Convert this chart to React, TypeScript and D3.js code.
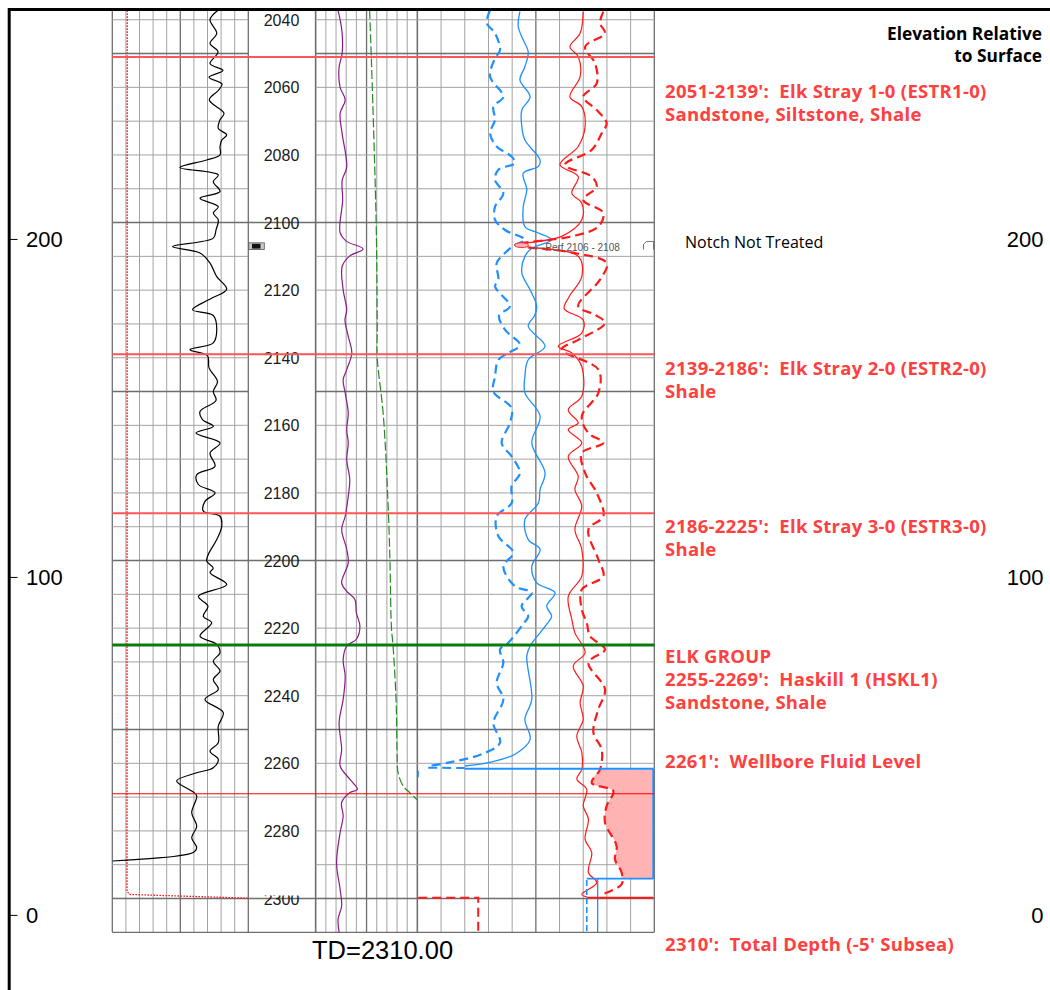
import React from "react";
import * as d3 from "d3";

type Pt = [number, number];

// ---------- DATA ----------
const depthLabels = [2040, 2060, 2080, 2100, 2120, 2140, 2160, 2180, 2200, 2220, 2240, 2260, 2280, 2300];
const elevationTicks = [0, 100, 200];
const surfaceElevation = 2305; // elevation = 2305 - depth
const totalDepth = 2310;

const formationTops = [2051, 2139, 2186];
const elkGroupTop = 2225;
const haskillBase = 2269;
const fluidLevel = 2261.6;
const shoeDepth = 2294.1;
const perfTop = 2106;
const perfBase = 2108;

// Track 1: gamma ray (API, 0-150)
const gammaRay: Pt[] = [
  [2037.2, 116.6], [2040, 107.8], [2044, 115.2], [2047, 107.8], [2049.5, 116.6], [2053, 107.8], [2055, 122.1],
  [2057, 106.7], [2059, 121.0], [2061, 116.6], [2063.7, 107.0], [2067.7, 123.2], [2069.6, 118.8], [2072.1, 116.9],
  [2074.1, 126.2], [2075.6, 120.7], [2077.5, 118.8], [2080, 118.8], [2081.5, 104.1], [2083.7, 74.7], [2085.9, 116.9],
  [2087.9, 111.4], [2090.8, 118.8], [2092.8, 96.7], [2095.3, 116.9], [2097.2, 111.4], [2099.2, 116.9], [2102.2, 114.4],
  [2104.6, 111.4], [2107.1, 66.4], [2109, 96.7], [2112, 107.8], [2116, 115.2], [2119.7, 126.2], [2122.5, 108.9],
  [2125.8, 88.5], [2127.5, 111.4], [2131.5, 115.2], [2135.6, 111.4], [2137.6, 85.7], [2139.4, 105.0], [2143, 106.7],
  [2147, 116.0], [2150, 111.4], [2152.6, 114.4], [2155.9, 96.7], [2158.3, 99.5], [2160.3, 111.4], [2162.3, 92.3],
  [2165.2, 118.8], [2168.2, 107.8], [2172.1, 113.3], [2174.6, 93.1], [2177.5, 94.9], [2180, 113.3], [2182.5, 102.2],
  [2185.4, 100.4], [2186.9, 118.8], [2189.9, 120.7], [2193.8, 115.2], [2198.2, 105.9], [2200.2, 104.1], [2202.2, 111.4],
  [2203.6, 107.8], [2207.1, 126.2], [2210.6, 94.9], [2213.5, 105.5], [2216.5, 100.4], [2218.4, 109.6], [2222.4, 96.7],
  [2224.8, 115.2], [2227.3, 118.8], [2229.8, 111.4], [2232.7, 118.8], [2235.2, 111.4], [2238.1, 116.9], [2241.1, 102.2],
  [2245, 122.4], [2249, 116.9], [2253.9, 116.9], [2256.4, 107.8], [2258.8, 116.9], [2261.3, 111.4], [2262.8, 93.1],
  [2265.2, 71.0], [2268.2, 87.6], [2269.6, 93.1], [2274.6, 87.6], [2278.6, 93.1], [2282, 87.6], [2285, 93.1],
  [2286.4, 89.3], [2288.9, 0.4],
];

// Track 1: caliper (in, 6-16)
const caliper: Pt[] = [[2037.2, 7.1], [2297.8, 7.08], [2298.8, 7.25], [2299.9, 16]];

// Track 2: purple curve (0-10)
const purpleCurve: Pt[] = [
  [2037.2, 2.2], [2040, 2.4], [2044, 2.6], [2050, 2.6], [2054, 2.3], [2060, 2.4], [2063.7, 2.9], [2067.7, 2.4],
  [2073.7, 2.6], [2083.6, 3.05], [2087.5, 2.6], [2093.4, 2.65], [2103, 2.4], [2105.5, 3.0], [2107.8, 4.65],
  [2110, 3.3], [2113, 2.6], [2119.9, 2.7], [2125.8, 3.05], [2128.8, 2.88], [2133.7, 3.2], [2138.6, 3.55],
  [2143.5, 3.05], [2146.5, 2.7], [2150.4, 2.9], [2156.3, 3.2], [2161.3, 3.05], [2165.2, 3.2], [2170.1, 3.05],
  [2176.1, 3.35], [2181, 3.2], [2186.9, 2.9], [2190.8, 2.55], [2196.7, 3.05], [2200.7, 3.2], [2206.6, 2.55],
  [2209.1, 3.05], [2211.5, 3.85], [2215.5, 4.0], [2219.4, 4.35], [2223.3, 4.0], [2225.3, 3.05], [2229.3, 2.7],
  [2234.2, 2.9], [2241.1, 2.7], [2248, 2.3], [2255.9, 2.55], [2260.8, 2.4], [2264.7, 3.35], [2267.7, 4.1],
  [2268.7, 3.35], [2271.6, 2.55], [2275.6, 2.7], [2280.5, 2.4], [2289.4, 2.05], [2297.3, 2.4], [2302.2, 2.55],
  [2306.1, 2.2], [2310, 2.3],
];

// Track 2: green dashed curve (0-10)
const greenCurve: Pt[] = [
  [2037.2, 5.3], [2054, 5.5], [2101, 5.95], [2131, 6.05], [2140, 6.05], [2157, 6.65], [2186, 7.15], [2200, 7.3],
  [2220, 7.45], [2225, 7.6], [2241, 7.9], [2256, 8.0], [2262.8, 8.1], [2266.7, 8.6], [2268.7, 9.25], [2270.7, 9.95],
];

// Track 3 curves (0-100)
const blueDashed: Pt[] = [
  [2037.2, 30.7], [2041, 29.3], [2044, 32.8], [2049, 34.9], [2051.4, 32.8], [2056.8, 30.7], [2062.8, 36.3],
  [2065.7, 32.1], [2069.6, 32.8], [2073.6, 30.7], [2077.5, 33.5], [2080.5, 39.8], [2082.4, 41.2], [2084.4, 34.2],
  [2087.4, 32.8], [2091.3, 36.3], [2095.3, 32.8], [2099.2, 32.8], [2102.2, 37.0], [2105.1, 45.4], [2106.6, 41.2],
  [2109, 37.0], [2112, 33.5], [2116.9, 34.2], [2118.9, 32.8], [2124.8, 39.1], [2127.5, 34.5], [2131.7, 37.0],
  [2136.2, 43.3], [2138.6, 38.4], [2140.6, 34.2], [2145.5, 32.8], [2150, 32.1], [2154.9, 39.8], [2159.3, 39.1],
  [2165.2, 35.6], [2169.2, 39.8], [2174.1, 43.3], [2178, 39.8], [2183, 39.8], [2186.9, 33.5], [2192.8, 34.2],
  [2197.7, 40.5], [2201.7, 36.3], [2207.6, 41.2], [2209.5, 48.3], [2213.5, 44.0], [2216.5, 46.8], [2218.5, 45.0],
  [2224.3, 38.4], [2226.3, 34.9], [2230.2, 36.3], [2236.2, 33.5], [2241.1, 36.3], [2248, 32.1], [2253.9, 34.9],
  [2257.3, 27.2], [2259.8, 13.1], [2260.8, 4.6],
];

const blueSolid: Pt[] = [
  [2037.6, 43.3], [2042, 42.6], [2046, 44.7], [2049.5, 46.8], [2053.9, 45.4], [2057.8, 43.3], [2062.8, 47.6],
  [2066.7, 44.1], [2071.6, 44.1], [2075.6, 45.4], [2081.5, 51.8], [2083.4, 51.1], [2085.4, 44.7], [2090.3, 46.2],
  [2095.3, 44.7], [2101.2, 45.4], [2103.1, 51.1], [2105.1, 56.7], [2107.6, 48.3], [2110, 45.4], [2114.9, 44.1],
  [2119.9, 47.6], [2124.8, 50.4], [2127.5, 49.5], [2130.7, 46.8], [2136.6, 53.9], [2140.6, 46.8], [2145.5, 45.4],
  [2150.4, 45.4], [2157.3, 51.8], [2165.2, 48.3], [2174.1, 53.9], [2179, 51.8], [2183, 51.1], [2187.9, 45.4],
  [2193.8, 46.8], [2196.7, 51.8], [2201.7, 48.3], [2206.6, 50.4], [2209.5, 58.1], [2213.5, 54.6], [2216.5, 56.7],
  [2219, 54.5], [2225.3, 47.6], [2228.3, 46.2], [2241.1, 48.3], [2247, 45.4], [2252.9, 47.6], [2257.3, 41.2],
  [2259.8, 30.0], [2260.8, 20.1],
];

const redSolid: Pt[] = [
  [2037.6, 70.0], [2044, 68.7], [2048, 64.4], [2050.9, 67.9], [2056.8, 68.7], [2062.8, 64.4], [2065.7, 69.4],
  [2071.6, 70.8], [2077.5, 67.9], [2082.9, 60.2], [2086.4, 67.9], [2091.3, 65.2], [2094.3, 69.4], [2099.2, 69.4],
  [2104.1, 60.9], [2106.6, 41.9], [2107.3, 47.6], [2110, 67.9], [2116, 69.4], [2122, 64], [2125.5, 62.0],
  [2128.8, 70.0], [2132.7, 69.4], [2136.6, 59.5], [2138.6, 65.2], [2142.6, 69.4], [2151.4, 69.4], [2155.4, 63.7],
  [2159.3, 67.9], [2161.3, 63.7], [2165.2, 69.4], [2169.2, 63.7], [2175.1, 67.9], [2179, 66.5], [2183.9, 69.4],
  [2190.8, 66.5], [2196.7, 69.4], [2204.6, 69.4], [2210.6, 63.7], [2217.4, 65.2], [2221.4, 66.5], [2227.3, 70.8],
  [2231.2, 65.8], [2237.1, 70.0], [2242.1, 68.7], [2247, 70.0], [2251.9, 67.3], [2256.8, 69.4], [2261.8, 69.4],
  [2264.7, 67.3], [2267.7, 71.5], [2272.6, 70.0], [2276.5, 72.2], [2282.5, 70.8], [2286.4, 73.6], [2292.3, 72.2],
  [2295.3, 75.7], [2298.8, 69.4], [2299.5, 71.5],
];

const redDashed: Pt[] = [
  [2037.6, 78.5], [2041, 77.1], [2044, 79.2], [2048, 70.8], [2052.9, 75.0], [2058.8, 75.7], [2062.8, 70.0],
  [2066.7, 75.7], [2070.6, 79.9], [2073.6, 77.8], [2078.5, 73.6], [2082.9, 62.3], [2086.4, 73.6], [2089.4, 75.7],
  [2093.3, 70.0], [2097.2, 78.5], [2101.2, 76.4], [2104.1, 65.2], [2106.6, 41.2], [2109, 66.5], [2112, 79.9],
  [2116.9, 77.1], [2124.8, 67.9], [2127.3, 75.0], [2129.7, 79.2], [2134.7, 67.9], [2137.6, 60.9], [2143.5, 76.4],
  [2150.4, 76.4], [2157.3, 69.4], [2162.3, 72.2], [2165.2, 78.5], [2168.2, 69.4], [2174.1, 70.8], [2180, 75.7],
  [2186.9, 78.5], [2190.8, 72.2], [2199.7, 76.4], [2204.6, 78.5], [2208.6, 69.4], [2214.5, 69.4], [2218.4, 71.5],
  [2222.4, 72.9], [2226.3, 79.2], [2230.2, 72.2], [2238.1, 79.2], [2244, 76.4], [2250.9, 74.3], [2255.9, 77.8],
  [2261.8, 77.1], [2265.8, 73.6], [2268.2, 82.7], [2272.6, 79.9], [2277.5, 79.2], [2284.5, 84.1], [2288.4, 83.4],
  [2292.3, 86.2], [2295.8, 86.2], [2298.8, 77.8],
];

// Bottom-hole hardware (track 3 units)
const fluidLineStart = 20;
const trackMax = 99.6;
const shoeLeft = 71.5;
const tubingRight = 76.1;
const redBottomLeft = 25.7;
const redBottomDepth = 2299.8;

const zoneNotes: string[][] = [
  ["2051-2139':  Elk Stray 1-0 (ESTR1-0)", "Sandstone, Siltstone, Shale"],
  ["2139-2186':  Elk Stray 2-0 (ESTR2-0)", "Shale"],
  ["2186-2225':  Elk Stray 3-0 (ESTR3-0)", "Shale"],
  ["ELK GROUP", "2255-2269':  Haskill 1 (HSKL1)", "Sandstone, Shale"],
  ["2261':  Wellbore Fluid Level"],
  ["2310':  Total Depth (-5' Subsea)"],
];
const noteBaselines = [98, 375, 533, 663, 768, 951];

export default function App() {
  const top = 10.3;
  const bottom = 932.3;
  const y = d3.scaleLinear().domain([2037.2, totalDepth]).range([top, bottom]);
  const yElev = d3
    .scaleLinear()
    .domain([surfaceElevation - 2037.2, surfaceElevation - totalDepth])
    .range([top, bottom]);
  const xGR = d3.scaleLinear().domain([0, 150]).range([112.3, 248.3]);
  const xCal = d3.scaleLinear().domain([6, 16]).range([112.3, 248.3]);
  const xT2 = d3.scaleLinear().domain([0, 10]).range([315.7, 417.4]);
  const xT3 = d3.scaleLinear().domain([0, 100]).range([417.3, 654.3]);

  const mk = (xs: d3.ScaleLinear<number, number>, curve: d3.CurveFactory = d3.curveCatmullRom.alpha(0.5)) =>
    d3
      .line<Pt>()
      .x((d) => xs(d[1]))
      .y((d) => y(d[0]))
      .curve(curve);

  // fill between red dashed and track edge, from fluid level to shoe
  const interpAt = (arr: Pt[], dep: number) => {
    const i = d3.bisector((d: Pt) => d[0]).left(arr, dep);
    const a = arr[Math.max(0, i - 1)];
    const b = arr[Math.min(arr.length - 1, i)];
    if (a[0] === b[0]) return a[1];
    return a[1] + ((b[1] - a[1]) * (dep - a[0])) / (b[0] - a[0]);
  };
  const fillPts: Pt[] = [
    [fluidLevel + 0.3, interpAt(redDashed, fluidLevel + 0.3)],
    ...redDashed.filter((d) => d[0] > fluidLevel + 0.3 && d[0] < shoeDepth - 0.2),
    [shoeDepth - 0.2, interpAt(redDashed, shoeDepth - 0.2)],
  ];
  const fillArea = d3
    .area<Pt>()
    .y((d) => y(d[0]))
    .x0((d) => xT3(d[1]))
    .x1(xT3(trackMax))
    .curve(d3.curveCatmullRom.alpha(0.5));

  const tracks = [
    { x0: 112.3, x1: 248.3 },
    { x0: 315.7, x1: 417.4 },
    { x0: 417.4, x1: 654.3 },
  ];
  const gridDepths = d3.range(2040, 2301, 10);

  const minorC = "#a3a3a3";
  const majorC = "#6e6e6e";
  const red = "#ff1a1a";
  const blue = "#1e90ff";
  const noteRed = "#ff4040";

  return (
    <svg
      width={1050}
      height={990}
      style={{ position: "absolute", left: 0, top: 0, display: "block", background: "#fff" }}
      fontFamily="'Liberation Sans', Arial, sans-serif"
    >
      <defs>
        <clipPath id="lbl2300">
          <rect x={248} y={y(2300) - 3} width={68} height={40} />
        </clipPath>
      </defs>

      {/* vertical grid */}
      {tracks.map((t, ti) =>
        d3.range(0, 11).map((i) => {
          const x = t.x0 + ((t.x1 - t.x0) * i) / 10;
          const major = i === 0 || i === 5 || i === 10;
          return (
            <line
              key={`v${ti}-${i}`}
              x1={x}
              x2={x}
              y1={top}
              y2={bottom}
              stroke={major ? majorC : minorC}
              strokeWidth={major ? 1.3 : 1}
            />
          );
        })
      )}
      <line x1={315.5} x2={315.5} y1={top} y2={bottom} stroke={majorC} strokeWidth={1.3} />

      {/* horizontal grid */}
      {gridDepths.map((d) => {
        const yy = y(d);
        const major = d % 50 === 0;
        const st = major ? majorC : minorC;
        const sw = major ? 1.6 : 1;
        if (d % 100 === 0) {
          return <line key={`h${d}`} x1={112.3} x2={654.3} y1={yy} y2={yy} stroke={st} strokeWidth={sw} />;
        }
        return (
          <g key={`h${d}`}>
            <line x1={112.3} x2={248.3} y1={yy} y2={yy} stroke={st} strokeWidth={sw} />
            <line x1={315.7} x2={654.3} y1={yy} y2={yy} stroke={st} strokeWidth={sw} />
          </g>
        );
      })}
      <line x1={112.3} x2={654.3} y1={bottom} y2={bottom} stroke={majorC} strokeWidth={1.3} />

      {/* depth labels */}
      {depthLabels.map((d) => (
        <text
          key={`dl${d}`}
          x={281.5}
          y={y(d) + 6}
          textAnchor="middle"
          fontSize={16}
          fill="#1a1a1a"
          clipPath={d === 2300 ? "url(#lbl2300)" : undefined}
        >
          {d}
        </text>
      ))}

      {/* perforation marker in depth track */}
      <rect x={248.8} y={y(perfTop)} width={15.5} height={y(perfBase) - y(perfTop)} fill="#c8c8c8" stroke="#555" strokeWidth={0.8} />
      <rect x={252} y={y(perfTop) + 1} width={8.5} height={y(perfBase) - y(perfTop) - 2} fill="#111" />

      {/* fill */}
      <path d={fillArea(fillPts) || ""} fill="#ffb3b3" stroke="none" />

      {/* caliper */}
      <path d={mk(xCal, d3.curveLinear)(caliper) || ""} fill="none" stroke={red} strokeWidth={1.3} strokeDasharray="1.6,1.4" />
      {/* gamma ray */}
      <path d={mk(xGR)(gammaRay) || ""} fill="none" stroke="#000" strokeWidth={1.2} />
      {/* track 2 */}
      <path d={mk(xT2)(purpleCurve) || ""} fill="none" stroke="#8a1a8a" strokeWidth={1.2} />
      <path d={mk(xT2)(greenCurve) || ""} fill="none" stroke="#228b22" strokeWidth={1.2} strokeDasharray="9,3" />

      {/* track 3 */}
      <path d={mk(xT3)(blueSolid) || ""} fill="none" stroke={blue} strokeWidth={1.3} />
      <path d={mk(xT3)(blueDashed) || ""} fill="none" stroke={blue} strokeWidth={2.2} strokeDasharray="9,5" />
      <path d={mk(xT3)(redSolid) || ""} fill="none" stroke={red} strokeWidth={1.2} />
      <path d={mk(xT3)(redDashed) || ""} fill="none" stroke={red} strokeWidth={2.2} strokeDasharray="9,5" />

      {/* fluid level + casing outline */}
      <line x1={xT3(4.6)} x2={xT3(fluidLineStart)} y1={y(fluidLevel - 0.3)} y2={y(fluidLevel - 0.2)} stroke={blue} strokeWidth={2} strokeDasharray="9,5" />
      <line x1={xT3(fluidLineStart)} x2={xT3(trackMax)} y1={y(fluidLevel)} y2={y(fluidLevel)} stroke={blue} strokeWidth={2} />
      <line x1={xT3(0.4)} x2={xT3(0.4)} y1={y(fluidLevel + 0.6)} y2={y(fluidLevel + 2.5)} stroke={blue} strokeWidth={1.2} />
      <line x1={xT3(trackMax)} x2={xT3(trackMax)} y1={y(fluidLevel)} y2={y(shoeDepth)} stroke={blue} strokeWidth={2} />
      <line x1={xT3(shoeLeft)} x2={xT3(trackMax)} y1={y(shoeDepth)} y2={y(shoeDepth)} stroke={blue} strokeWidth={1.8} />
      <line x1={xT3(shoeLeft)} x2={xT3(shoeLeft)} y1={y(shoeDepth + 0.4)} y2={y(totalDepth)} stroke={blue} strokeWidth={1.6} strokeDasharray="6,3" />
      <line x1={xT3(tubingRight)} x2={xT3(tubingRight)} y1={y(shoeDepth)} y2={y(totalDepth)} stroke={blue} strokeWidth={1.3} />
      <line x1={xT3(shoeLeft)} x2={xT3(trackMax)} y1={y(redBottomDepth)} y2={y(redBottomDepth)} stroke={red} strokeWidth={2} />
      <path
        d={`M${xT3(0.4)},${y(redBottomDepth)}H${xT3(redBottomLeft)}V${y(totalDepth)}`}
        fill="none"
        stroke={red}
        strokeWidth={2}
        strokeDasharray="9,5"
      />

      {/* perforation annotation */}
      <ellipse cx={xT3(44)} cy={y(2106.7)} rx={7} ry={2.4} fill="#ffb0b0" stroke={red} strokeWidth={0.8} />
      <line x1={xT3(48)} x2={xT3(54)} y1={y(2107.5)} y2={y(2107.5)} stroke="#666" strokeWidth={0.8} />
      <text x={xT3(54)} y={y(2107.5) + 3.5} fontSize={10} fill="#555">
        Perf 2106 - 2108
      </text>
      <path d={`M643.5,${y(2108)}V${y(2106.4)}L646.5,${y(2105.6)}H653.5V${y(2108)}`} fill="#fff" stroke="#666" strokeWidth={0.9} />

      {/* formation tops */}
      {formationTops.map((d) => (
        <line key={`ft${d}`} x1={112.3} x2={654.3} y1={y(d)} y2={y(d)} stroke="#ff5555" strokeWidth={2} />
      ))}
      <line x1={112.3} x2={654.3} y1={y(elkGroupTop)} y2={y(elkGroupTop)} stroke="#0d7a0d" strokeWidth={3.2} />
      <line x1={112.3} x2={654.3} y1={y(haskillBase)} y2={y(haskillBase)} stroke="#ff0000" strokeWidth={1.1} />

      {/* frame */}
      <line x1={8} x2={1050} y1={9.5} y2={9.5} stroke="#000" strokeWidth={3} />
      <line x1={9.2} x2={9.2} y1={8} y2={990} stroke="#000" strokeWidth={3} />

      {/* elevation axis */}
      {elevationTicks.map((v) => (
        <g key={`el${v}`}>
          <line x1={10} x2={17.5} y1={yElev(v)} y2={yElev(v)} stroke="#000" strokeWidth={1} />
          <text x={26} y={yElev(v) + 8} fontSize={22} fill="#000">
            {v}
          </text>
          <text x={1043.5} y={yElev(v) + 8} fontSize={22} fill="#000" textAnchor="end">
            {v}
          </text>
        </g>
      ))}

      {/* titles and notes */}
      <g fontFamily="'Open Sans', 'Noto Sans', sans-serif" fontWeight="bold">
        <text x={1042} y={40} fontSize={17.3} textAnchor="end" fill="#000">
          Elevation Relative
        </text>
        <text x={1042} y={62} fontSize={17.3} textAnchor="end" fill="#000">
          to Surface
        </text>
        {zoneNotes.map((lines, i) =>
          lines.map((s, j) => (
            <text
              key={`n${i}-${j}`}
              x={665}
              y={noteBaselines[i] + j * 23}
              fontSize={18.5}
              letterSpacing={0.3}
              fill={noteRed}
              style={{ whiteSpace: "pre" }}
            >
              {s}
            </text>
          ))
        )}
      </g>
      <text x={685} y={248} fontSize={16} fill="#000" fontFamily="'Open Sans', 'Noto Sans', sans-serif">
        Notch Not Treated
      </text>

      <text x={312} y={958.5} fontSize={25.5} fill="#000">
        TD=2310.00
      </text>
    </svg>
  );
}
